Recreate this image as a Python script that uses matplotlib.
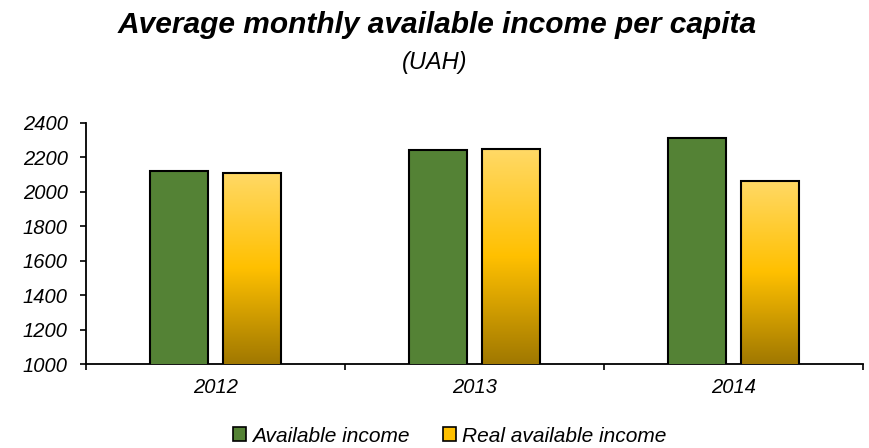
import numpy as np
import matplotlib
matplotlib.use("Agg")
import matplotlib.pyplot as plt
from matplotlib.colors import LinearSegmentedColormap
from matplotlib.patches import Patch

years = ["2012", "2013", "2014"]
available_income = [2124, 2245, 2312]
real_available_income = [2112, 2248, 2064]
series_labels = ["Available income", "Real available income"]
yticks = [1000, 1200, 1400, 1600, 1800, 2000, 2200, 2400]

plt.rcParams['font.family'] = ['Liberation Sans', 'DejaVu Sans']

fig = plt.figure(figsize=(8.7, 4.48), dpi=100)
ax = fig.add_axes([86/870, 1 - 364/448, 777/870, 241/448])

x = np.arange(len(years))
w = 0.224
off = 0.141
green = "#548235"
b1 = ax.bar(x - off, available_income, width=w, color=green,
            edgecolor="black", linewidth=1.5, zorder=3)
b2 = ax.bar(x + off, real_available_income, width=w, color="none",
            edgecolor="black", linewidth=1.5, zorder=4)

cmap = LinearSegmentedColormap.from_list(
    "gold", [(0.0, "#FFD966"), (0.5, "#FFC000"), (1.0, "#A07800")])
grad = np.linspace(0, 1, 256).reshape(-1, 1)
for r in b2:
    x0 = r.get_x()
    x1 = x0 + r.get_width()
    y1 = r.get_y() + r.get_height()
    im = ax.imshow(grad, cmap=cmap, aspect="auto", extent=(x0, x1, 1000, y1),
                   origin="upper", zorder=3.5, interpolation="bilinear")
    im.set_clip_path(r)

ax.set_xlim(-0.5, len(years) - 0.5)
ax.set_ylim(1000, 2400)
ax.set_yticks(yticks)
ax.set_yticklabels([str(v) for v in yticks])
ax.set_xticks(x)
ax.set_xticklabels(years)
for lbl in ax.get_yticklabels() + ax.get_xticklabels():
    lbl.set_fontstyle("italic")
    lbl.set_fontsize(14.5)
ax.set_xticks(np.arange(len(years) + 1) - 0.5, minor=True)
ax.tick_params(axis="x", which="major", length=0, pad=10)
ax.tick_params(axis="x", which="minor", length=4.5, width=1.2, direction="out")
ax.tick_params(axis="y", length=4.5, width=1.2, direction="out", pad=8.5)
for s in ["top", "right"]:
    ax.spines[s].set_visible(False)
for s in ["left", "bottom"]:
    ax.spines[s].set_linewidth(1.3)

fig.text(0.502, 1 - 33/448, "Average monthly available income per capita",
         ha="center", va="baseline", fontsize=21.5, fontweight="bold",
         fontstyle="italic")
fig.text(0.5, 1 - 69/448, "(UAH)", ha="center", va="baseline", fontsize=17,
         fontstyle="italic")

handles = [Patch(facecolor=green, edgecolor="black", linewidth=1.2),
           Patch(facecolor="#FFC000", edgecolor="black", linewidth=1.2)]
leg = fig.legend(handles, series_labels, loc="center", ncol=2,
                 bbox_to_anchor=(0.517, 1 - 436/448), frameon=False,
                 prop={"size": 15, "style": "italic"},
                 handlelength=0.63, handleheight=0.63, handletextpad=0.3,
                 columnspacing=1.6)

fig.savefig("out.png", dpi=100)
